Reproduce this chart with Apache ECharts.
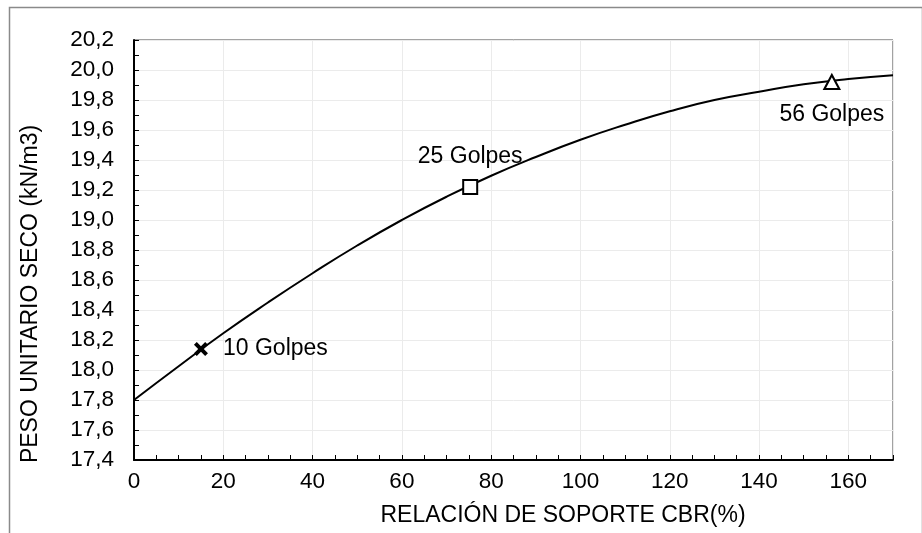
<!DOCTYPE html>
<html>
<head>
<meta charset="utf-8">
<script src="https://cdn.jsdelivr.net/npm/echarts@6/dist/echarts.min.js"></script>
<style>html,body{margin:0;padding:0;background:#fff}#c{width:922px;height:533px}</style>
</head>
<body>
<div id="c"></div>
<script>
// Trendline
const curveX = [0, 10, 20, 30, 40, 50, 60, 70, 80, 90, 100, 110, 120, 130, 140, 150, 160, 170];
const curveY = [17.80, 18.025, 18.245, 18.45, 18.645, 18.83, 19.0, 19.155, 19.295, 19.42, 19.535, 19.635, 19.725, 19.80, 19.855, 19.905, 19.94, 19.965];
// Measured points
const pointNames = ['10 Golpes', '25 Golpes', '56 Golpes'];
const pointX = [15, 75.3, 156.3];
const pointY = [18.14, 19.22, 19.92];
const xTitle = 'RELACIÓN DE SOPORTE CBR(%)';
const yTitle = 'PESO UNITARIO SECO (kN/m3)';

const FONT = '"Liberation Sans", Arial, Helvetica, sans-serif';
const chart = echarts.init(document.getElementById('c'), null, {renderer: 'canvas'});

const crossPath = 'path://M0,3 L3,0 L7.5,4.5 L12,0 L15,3 L10.5,7.5 L15,12 L12,15 L7.5,10.5 L3,15 L0,12 L4.5,7.5 Z';
const symbols = [crossPath, 'rect', 'triangle'];
const sizes = [14, 14, [15, 14]];
const labelPos = [
  {position: 'right', distance: 15},
  {position: 'top', distance: 11},
  {position: 'bottom', distance: 13}
];

const pointData = pointX.map((x, i) => ({
  value: [x, pointY[i]],
  name: pointNames[i],
  symbol: symbols[i],
  symbolSize: sizes[i],
  itemStyle: i === 0 ? {color: '#000', borderWidth: 0, opacity: 1} : {color: '#fff', borderColor: '#000', borderWidth: 2, opacity: 1},
  label: Object.assign({show: true, formatter: pointNames[i], fontSize: 23, fontFamily: FONT, color: '#000', opacity: 1}, labelPos[i])
}));

const option = {
  animation: false,
  backgroundColor: '#fff',
  grid: {left: 134, right: 29, top: 40, bottom: 73, show: true, borderColor: '#444', borderWidth: 1, containLabel: false},
  xAxis: [{
    type: 'value', min: 0, max: 170, interval: 20,
    axisLine: {show: true, lineStyle: {color: '#000', width: 2}},
    axisTick: {show: false},
    axisLabel: {fontSize: 22.5, fontFamily: FONT, color: '#000', margin: 10, showMaxLabel: false,
      formatter: v => (v % 20 === 0 ? String(v) : '')},
    splitLine: {show: true, lineStyle: {color: '#ebebeb', width: 1}}
  }, {
    type: 'value', min: 0, max: 170, interval: 5, position: 'bottom',
    axisLine: {show: false},
    axisTick: {show: true, inside: true, length: 5, lineStyle: {color: '#000', width: 1}},
    axisLabel: {show: false},
    splitLine: {show: false}
  }],
  yAxis: {
    type: 'value', min: 17.4, max: 20.2, interval: 0.2,
    axisLine: {show: true, lineStyle: {color: '#000', width: 2}},
    axisTick: {show: true, inside: true, length: 5, lineStyle: {color: '#000', width: 1}},
    minorTick: {show: true, splitNumber: 2, length: 5, lineStyle: {color: '#000', width: 1}},
    axisLabel: {fontSize: 22.5, fontFamily: FONT, color: '#000', margin: 20,
      formatter: v => v.toFixed(1).replace('.', ',')},
    splitLine: {show: true, lineStyle: {color: '#ebebeb', width: 1}}
  },
  graphic: [
    {type: 'rect', shape: {x: 9.5, y: 7.5, width: 913, height: 600}, style: {fill: 'none', stroke: '#8a8a8a', lineWidth: 1.5}, silent: true, z: -1},
    {type: 'text', x: 31, y: 294, rotation: Math.PI / 2,
      style: {text: yTitle, font: '23px ' + FONT, fill: '#000', textAlign: 'center', textVerticalAlign: 'middle'}},
    {type: 'text', x: 563, y: 516,
      style: {text: xTitle, font: '23px ' + FONT, fill: '#000', textAlign: 'center', textVerticalAlign: 'middle'}}
  ],
  series: [{
    type: 'line', xAxisIndex: 0,
    data: curveX.map((x, i) => [x, curveY[i]]),
    smooth: true, showSymbol: false, symbol: 'none',
    lineStyle: {color: '#000', width: 2}, z: 3
  }, {
    type: 'scatter', xAxisIndex: 0,
    data: pointData, z: 5
  }]
};
chart.setOption(option);
</script>
</body>
</html>
